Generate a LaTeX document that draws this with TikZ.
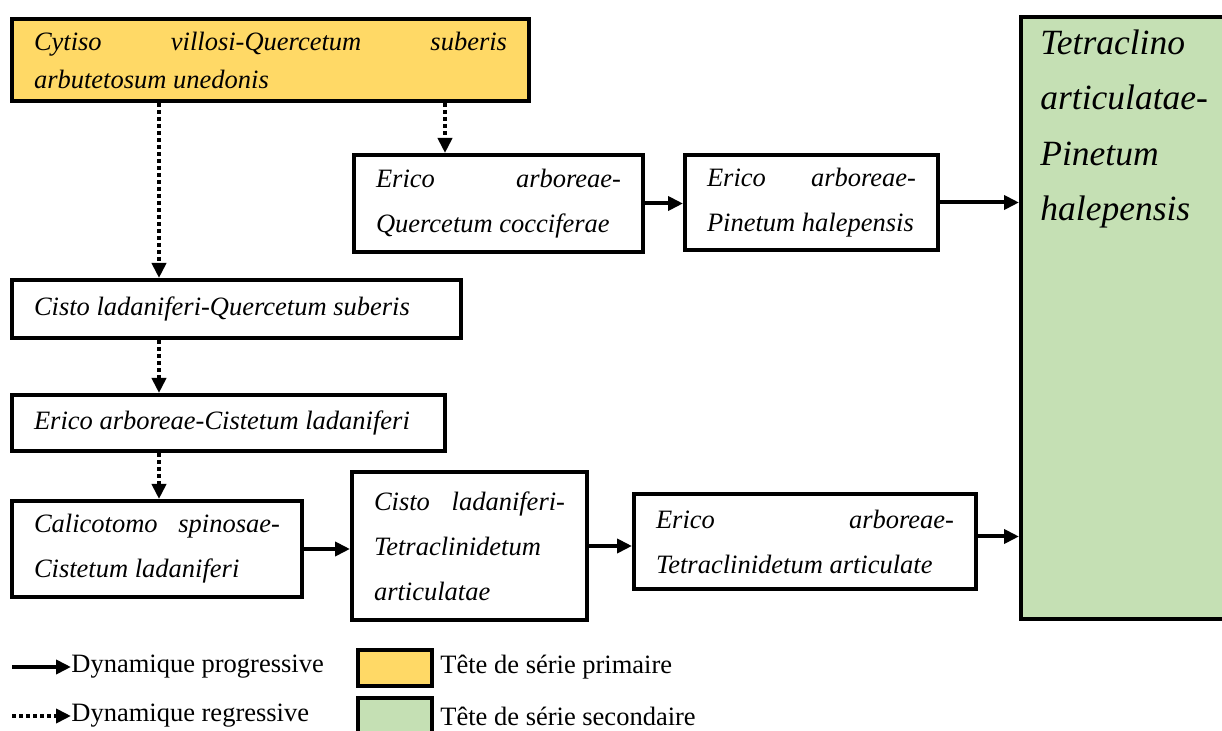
\documentclass[tikz,border=0pt]{standalone}
\usepackage{fontspec}
\setmainfont{Liberation Serif}
\usepackage{xcolor}
\usetikzlibrary{arrows.meta}
\definecolor{primcol}{RGB}{255,217,102}
\definecolor{seccol}{RGB}{197,224,180}
\tolerance=10000
\hbadness=10000

\begin{document}
\begin{tikzpicture}[x=0.5pt,y=-0.5pt,
  assoc/.style={rectangle,draw,line width=2pt,inner xsep=11pt,inner ysep=0pt,
    align=justify,font=\fontsize{13.25}{22.5}\selectfont\itshape},
  prog/.style={line width=2pt,-{Triangle[length=7.5pt,width=7pt]}},
  regr/.style={line width=2pt,dash pattern=on 2pt off 1.5pt,-{Triangle[length=7.5pt,width=7pt]}},
  swatch/.style={rectangle,draw,line width=2pt,minimum width=37pt},
  legend/.style={anchor=west,inner sep=0pt,font=\fontsize{13.25}{16}\selectfont}]
\useasboundingbox (0,0) rectangle (1222,731);
\node[rectangle,draw,line width=2pt,fill=seccol,minimum width=106pt,minimum height=301pt] (tap) at (1127,318) {};
\node[anchor=north west,inner sep=0pt,align=left,font=\fontsize{17.75}{27.8}\selectfont\itshape]
  (taptext) at ([xshift=10.5pt,yshift=-7pt]tap.north west) {Tetraclino\\articulatae-\\Pinetum\\halepensis};
\node[assoc,fill=primcol,text width=236.5pt,minimum height=41pt,font=\fontsize{13.25}{19}\selectfont\itshape]
  (cytiso) at (270.5,60) {Cytiso villosi-Quercetum suberis\linebreak arbutetosum unedonis};
\node[assoc,text width=122.5pt,minimum height=48.5pt] (erq) at (498.5,203.5) {Erico arboreae-\linebreak Quercetum cocciferae};
\node[assoc,text width=104.5pt,minimum height=47.5pt] (erp) at (811.5,202.5) {Erico arboreae-\linebreak Pinetum halepensis};
\node[assoc,text width=202.5pt,minimum height=29pt] (cisto) at (236.5,309) {Cisto ladaniferi-Quercetum suberis};
\node[assoc,text width=194.5pt,minimum height=28pt] (ecl) at (228.5,423) {Erico arboreae-Cistetum ladaniferi};
\node[assoc,text width=123pt,minimum height=48pt] (cal) at (157,549) {Calicotomo spinosae-\linebreak Cistetum ladaniferi};
\node[assoc,text width=95.5pt,minimum height=74pt] (ctt) at (469.5,546) {Cisto ladaniferi-\linebreak Tetraclinidetum\linebreak articulatae};
\node[assoc,text width=149pt,minimum height=47.5pt] (etc) at (805,541.5) {Erico arboreae-\linebreak Tetraclinidetum articulate};
\coordinate (lane) at (159,0);
\coordinate (lanetwo) at (445,0);
\coordinate (etcout) at ([yshift=2.5pt]etc.east);
\draw[regr] (cytiso.south -| lane) -- (cisto.north -| lane);
\draw[regr] (cytiso.south -| lanetwo) -- (erq.north -| lanetwo);
\draw[regr] (cisto.south -| lane) -- (ecl.north -| lane);
\draw[regr] (ecl.south -| lane) -- (cal.north -| lane);
\draw[prog] (erq.east) -- (erp.west |- erq.east);
\draw[prog] (erp.east) -- (tap.west |- erp.east);
\draw[prog] (cal.east) -- (ctt.west |- cal.east);
\draw[prog] (ctt.east) -- (etc.west |- ctt.east);
\draw[prog] (etcout) -- (tap.west |- etcout);
\coordinate (progtail) at (12,667);
\node[legend] (legprog) at (71,667) {Dynamique progressive};
\draw[prog] (progtail) -- (legprog.west);
\coordinate (regrtail) at (12,716);
\node[legend] (legregr) at (71,716) {Dynamique regressive};
\draw[regr] (regrtail) -- (legregr.west);
\node[swatch,fill=primcol,minimum height=18pt] (swprim) at (395,668) {};
\node[legend] (legprim) at (440,667) {Tête de série primaire};
\node[swatch,fill=seccol,minimum height=22pt] (swsec) at (395,720) {};
\node[legend] (legsec) at (440,716) {Tête de série secondaire};
\end{tikzpicture}
\end{document}
